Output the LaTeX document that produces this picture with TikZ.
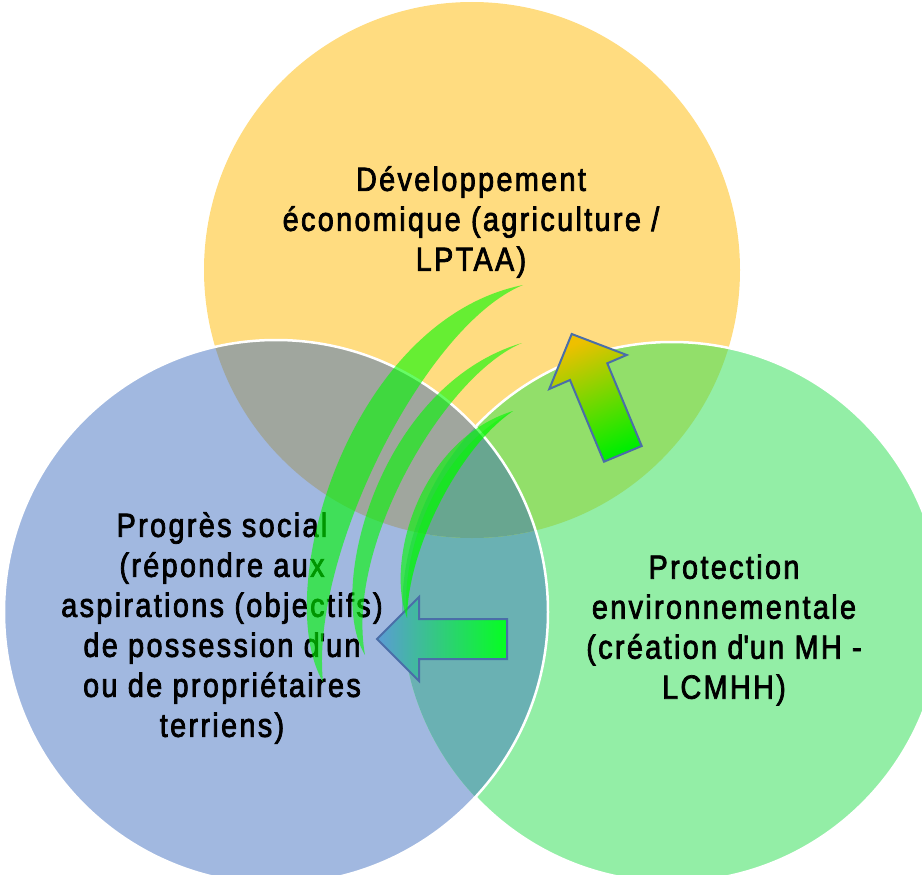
\documentclass[tikz,border=0pt]{standalone}
\usepackage{fontspec}
\setmainfont{Liberation Sans}[FakeStretch=0.86,LetterSpace=7,FakeBold=2.2]
\definecolor{cYel}{HTML}{FFDC80}
\definecolor{cBlu}{HTML}{A1B8E0}
\definecolor{cGrn}{HTML}{93EEA6}
\definecolor{cYB}{HTML}{A0A69E}
\definecolor{cYG}{HTML}{92DF6A}
\definecolor{cBG}{HTML}{6AB1B3}
\definecolor{cYBG}{HTML}{68A690}
\definecolor{cEdge}{HTML}{4A6EA8}
\definecolor{cSwoosh}{HTML}{00FA00}
\definecolor{cGold}{RGB}{238,192,0}
\definecolor{cLime}{RGB}{140,210,32}
\definecolor{cVivid}{RGB}{0,238,0}
\definecolor{cSteel}{RGB}{91,155,213}
\definecolor{cNeon}{RGB}{5,255,32}
\begin{document}
\begin{tikzpicture}[x=1pt,y=-1pt,
  lbl/.style={align=center,inner sep=0pt,font=\fontsize{33.5}{40}\selectfont},
  rim/.style={draw=white,line width=2.5pt},
  blockarrow/.style={draw=cEdge,line width=2pt,line join=miter},
  swoosh/.style={fill=cSwoosh,fill opacity=0.6}]
\useasboundingbox (0,0) rectangle (922,875);
\clip (0,0) rectangle (922,875);

% circle centres
\coordinate (Y) at (472,270);
\coordinate (B) at (276,612);
\coordinate (G) at (672,612);
\def\rY{268}\def\rB{272}\def\rG{270}

% plain discs
\fill[cYel] (Y) circle[radius=\rY];
\fill[cBlu] (B) circle[radius=\rB];
\fill[cGrn] (G) circle[radius=\rG];
% pairwise overlaps
\begin{scope}\clip (B) circle[radius=\rB]; \fill[cBG] (G) circle[radius=\rG];\end{scope}
\begin{scope}\clip (Y) circle[radius=\rY]; \fill[cYB] (B) circle[radius=\rB];
  \fill[cYG] (G) circle[radius=\rG];\end{scope}
% triple overlap
\begin{scope}\clip (Y) circle[radius=\rY]; \clip (B) circle[radius=\rB];
  \fill[cYBG] (G) circle[radius=\rG];\end{scope}

% white rims
\path[rim] (B) circle[radius=\rB];
\begin{scope}[even odd rule]
  \clip (-20,-20) rectangle (960,920) (B) circle[radius=\rB];
  \path[rim] (G) circle[radius=\rG];
\end{scope}

% labels
\node[lbl] (eco) at (471,222) {Développement\\économique (agriculture /\\LPTAA)};
\node[lbl] (soc) at (222,628) {Progrès social\\(répondre aux\\aspirations (objectifs)\\de possession d\textquotesingle un\\ou de propriétaires\\terriens)};
\node[lbl] (env) at (724,630) {Protection\\environnementale\\(création d\textquotesingle un MH -\\LCMHH)};

% block arrows
\shadedraw[blockarrow,top color=cGold,middle color=cLime,bottom color=cVivid,shading angle=23]
  (571.7,334) -- (626.7,355) -- (607.3,363.3) -- (641.7,446) -- (604,461.7)
  -- (570,380) -- (549.3,389) -- cycle;
\shadedraw[blockarrow,left color=cSteel,right color=cNeon]
  (377,639) -- (419,597) -- (419,619) -- (507,619) -- (507,659) -- (419,659)
  -- (419,681) -- cycle;

% green swooshes
\path[swoosh] (323,682) .. controls (270,590) and (350,320) .. (523,285)
  .. controls (425,325) and (310,555) .. (323,682) -- cycle;
\path[swoosh] (365,655) .. controls (325,590) and (380,385) .. (522,343)
  .. controls (445,375) and (345,545) .. (365,655) -- cycle;
\path[swoosh] (407,618) .. controls (385,560) and (420,440) .. (513,411)
  .. controls (462,445) and (408,545) .. (407,618) -- cycle;
\path[swoosh,fill opacity=0.35] (407,618) .. controls (400,555) and (435,452) .. (513,411)
  .. controls (462,445) and (408,545) .. (407,618) -- cycle;
\end{tikzpicture}
\end{document}
